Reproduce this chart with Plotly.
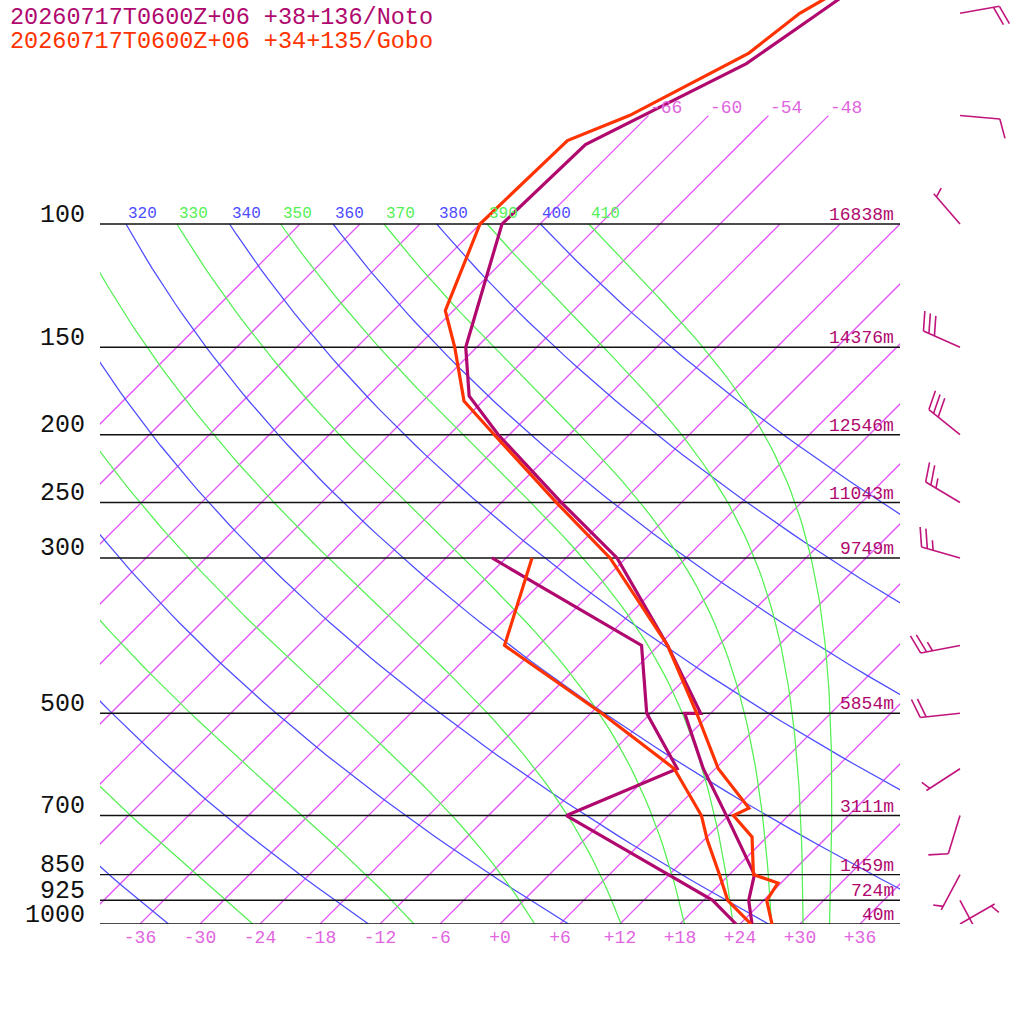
import numpy as np
import plotly.graph_objects as go

# ---------------- data ----------------
NOTO_T_P = [1000, 925, 850, 700, 600, 500, 500, 400, 300, 250, 200, 176, 150, 100, 77, 59, 50, 40]
NOTO_T = [25.2, 22.5, 20.5, 11.8, 4.8, -2.6, -1.0, -11.1, -24.9, -36.0, -49.1, -55.9, -61.1, -69.8, -69.4, -61.4, -59.2, -56.3]
NOTO_TD_P = [1000, 925, 850, 700, 600, 500, 400, 300]
NOTO_TD = [23.6, 18.9, 11.9, -4.2, 2.2, -6.4, -13.7, -37.4]

GOBO_T_P = [1000, 925, 874, 850, 751, 700, 683, 600, 500, 400, 300, 250, 200, 179, 150, 133, 100, 76, 70, 57, 50, 40]
GOBO_T = [27.2, 24.3, 23.7, 20.4, 16.5, 12.5, 13.3, 6.3, -1.4, -11.1, -25.6, -36.5, -49.5, -55.9, -62.2, -66.8, -72.0, -71.6, -67.9, -62.2, -61.1, -56.1]
GOBO_TD_P = [1000, 925, 850, 758, 700, 600, 500, 400, 300]
GOBO_TD = [25.1, 20.4, 17.0, 12.3, 9.3, 1.9, -10.9, -27.4, -33.4]

WIND_P = [1000, 925, 850, 700, 600, 500, 400, 300, 250, 200, 150, 100, 70, 50]
WIND_DIR = [60, 152, 208, 197, 237, 264, 259, 286, 301, 309, 294, 319, 95, 80]
WIND_KT = [5, 5, 5, 10, 5, 20, 25, 25, 25, 30, 30, 5, 10, 20]

LEVELS = [1000, 925, 850, 700, 500, 300, 250, 200, 150, 100]
LEVEL_LABELS = ["1000", "925", "850", "700", "500", "300", "250", "200", "150", "100"]
HEIGHTS = ["40m", "724m", "1459m", "3111m", "5854m", "9749m", "11043m", "12546m", "14376m", "16838m"]

ISOTHERMS = [-90, -84, -78, -72, -66, -60, -54, -48, -42, -36, -30, -24, -18, -12, -6,
             0, 6, 12, 18, 24, 30, 36, 42]
TALL_ISOTHERMS = [-66, -60, -54, -48]
THETA = [240, 260, 280, 300, 320, 340, 360, 380, 400]
THETA_E = [230, 250, 270, 290, 310, 330, 350, 370, 390, 410]
THETA_LABELLED = [320, 340, 360, 380, 400]
THETA_E_LABELLED = [330, 350, 370, 390, 410]
X_TICKS = [-36, -30, -24, -18, -12, -6, 0, 6, 12, 18, 24, 30, 36]
X_TICKTEXT = ["-36", "-30", "-24", "-18", "-12", "-6", "+0", "+6", "+12", "+18", "+24", "+30", "+36"]

TITLE_1 = "20260717T0600Z+06 +38+136/Noto"
TITLE_2 = "20260717T0600Z+06 +34+135/Gobo"

# ---------------- style ----------------
C_NOTO = "rgb(176,8,110)"
C_GOBO = "rgb(255,51,0)"
C_ISO = "rgb(226,84,246)"
C_ISO_TXT = "rgb(224,102,224)"
C_DRY = "rgb(76,76,255)"
C_MOIST = "rgb(84,240,84)"
C_BARB = "rgb(192,20,124)"
MONO = "Liberation Mono"
SKEW = 70.0          # deg per decade of pressure
PX_PER_DECADE = 700.0
P_TOP = 10 ** (3 - 924 / PX_PER_DECADE)


def skew(T, p):
    return np.asarray(T, float) + SKEW * np.log10(1000.0 / np.asarray(p, float))


# pseudo-adiabat integration
Rd, Cp, Lv, EPS = 287.04, 1005.7, 2.501e6, 0.622


def esat(Tk):
    Tc = Tk - 273.15
    return 6.112 * np.exp(17.67 * Tc / (Tc + 243.5))


def dT_dlnp(T, p):
    e = esat(T)
    rs = EPS * e / (p - e)
    return (Rd * T + Lv * rs) / (Cp + Lv * Lv * rs * EPS / (Rd * T * T))


def moist_adiabat(theta_e, p_out):
    p0 = 20.0
    T = theta_e * (p0 / 1000.0) ** 0.2857
    targets = np.log(np.asarray(p_out, float))
    n = 2000
    grid = np.linspace(np.log(p0), np.log(1000.0), n + 1)
    Ts = [T]
    for i in range(n):
        h = grid[i + 1] - grid[i]
        pa = np.exp(grid[i])
        pm = np.exp(grid[i] + h / 2)
        pb = np.exp(grid[i + 1])
        k1 = dT_dlnp(T, pa)
        k2 = dT_dlnp(T + h / 2 * k1, pm)
        k3 = dT_dlnp(T + h / 2 * k2, pm)
        k4 = dT_dlnp(T + h * k3, pb)
        T = T + h / 6 * (k1 + 2 * k2 + 2 * k3 + k4)
        Ts.append(T)
    Ts = np.array(Ts)
    return np.interp(targets, grid, Ts) - 273.15


fig = go.Figure()
P_LINE = np.logspace(3, 2, 80)
THIN = 1.25

# isotherms
for t_iso in ISOTHERMS:
    ptop = 70.0 if t_iso in TALL_ISOTHERMS else 100.0
    pp = [1000.0, ptop]
    xs = [float(skew(t_iso, q)) for q in pp]
    fig.add_trace(go.Scatter(x=xs, y=pp, mode="lines",
                             line=dict(color=C_ISO, width=THIN), hoverinfo="skip", showlegend=False))
# dry adiabats
for th in THETA:
    Tc = th * (P_LINE / 1000.0) ** 0.2857 - 273.15
    fig.add_trace(go.Scatter(x=skew(Tc, P_LINE), y=P_LINE, mode="lines",
                             line=dict(color=C_DRY, width=THIN), hoverinfo="skip", showlegend=False))
# moist adiabats
for th_e in THETA_E:
    Tc = moist_adiabat(th_e, P_LINE)
    fig.add_trace(go.Scatter(x=skew(Tc, P_LINE), y=P_LINE, mode="lines",
                             line=dict(color=C_MOIST, width=THIN), hoverinfo="skip", showlegend=False))
# pressure level lines
for p in LEVELS:
    fig.add_trace(go.Scatter(x=[-40, 40], y=[p, p], mode="lines",
                             line=dict(color="#111111", width=1.4), hoverinfo="skip", showlegend=False))

# profiles
for P, T, c in [(NOTO_T_P, NOTO_T, C_NOTO), (NOTO_TD_P, NOTO_TD, C_NOTO),
                (GOBO_T_P, GOBO_T, C_GOBO), (GOBO_TD_P, GOBO_TD, C_GOBO)]:
    fig.add_trace(go.Scatter(x=skew(T, P), y=P, mode="lines",
                             line=dict(color=c, width=3.2), showlegend=False))

# wind barbs (x2: pixel units, y2: same log pressure scale)
BASE_X = 60.0
STAFF, FULL, HALF, GAP, LEAN = 40.0, 20.0, 10.0, 6.0, np.radians(20)
bx_all, by_all = [], []


def add_seg(p, pts):
    for dx, dy in pts:
        bx_all.append(BASE_X + dx)
        by_all.append(p * 10 ** (dy / PX_PER_DECADE))
    bx_all.append(None)
    by_all.append(None)


for p, d, s in zip(WIND_P, WIND_DIR, WIND_KT):
    th = np.radians(d)
    ux, uy = np.sin(th), -np.cos(th)
    rx, ry = -uy, ux
    bxv = np.cos(LEAN) * rx + np.sin(LEAN) * ux
    byv = np.cos(LEAN) * ry + np.sin(LEAN) * uy
    add_seg(p, [(0, 0), (STAFF * ux, STAFF * uy)])
    nfull = s // 10
    half = (s % 10) >= 5
    pos = STAFF if nfull > 0 else STAFF - 4
    for k in range(nfull):
        sx, sy = pos * ux, pos * uy
        add_seg(p, [(sx, sy), (sx + FULL * bxv, sy + FULL * byv)])
        pos -= GAP
    if half:
        sx, sy = pos * ux, pos * uy
        add_seg(p, [(sx, sy), (sx + HALF * bxv, sy + HALF * byv)])

fig.add_trace(go.Scatter(x=bx_all, y=by_all, xaxis="x2", yaxis="y2", mode="lines",
                         line=dict(color=C_BARB, width=1.6), hoverinfo="skip", showlegend=False))

# ---------------- annotations ----------------
ann = []
for p, lab in zip(LEVELS, LEVEL_LABELS):
    ann.append(dict(x=-40, y=np.log10(p), xref="x", yref="y", text=lab, showarrow=False,
                    xanchor="right", yanchor="middle", xshift=-13, yshift=9,
                    font=dict(family=MONO, size=25, color="#111111")))
for p, lab in zip(LEVELS, HEIGHTS):
    ann.append(dict(x=40, y=np.log10(p), xref="x", yref="y", text=lab, showarrow=False,
                    xanchor="right", yanchor="bottom", xshift=-4, yshift=-3,
                    font=dict(family=MONO, size=18, color=C_NOTO)))
for t_iso in TALL_ISOTHERMS:
    ann.append(dict(x=float(skew(t_iso, 70.0)), y=np.log10(70.0), xref="x", yref="y", text="%d" % t_iso,
                    showarrow=False, xanchor="left", yanchor="bottom", yshift=-4,
                    font=dict(family=MONO, size=18, color=C_ISO_TXT)))
for th in THETA_LABELLED:
    Tc = th * 0.1 ** 0.2857 - 273.15
    ann.append(dict(x=float(skew(Tc, 100.0)), y=2.0, xref="x", yref="y", text=str(th),
                    showarrow=False, xanchor="left", yanchor="bottom", yshift=-1,
                    font=dict(family=MONO, size=16, color=C_DRY)))
for th in THETA_E_LABELLED:
    Tc = moist_adiabat(th, [100.0])[0]
    ann.append(dict(x=float(skew(Tc, 100.0)), y=2.0, xref="x", yref="y", text=str(th),
                    showarrow=False, xanchor="left", yanchor="bottom", yshift=-1,
                    font=dict(family=MONO, size=16, color=C_MOIST)))
ann.append(dict(x=-92 / 924, y=1 - 17 / 924, xref="paper", yref="paper", text=TITLE_1,
                showarrow=False, xanchor="left", yanchor="middle",
                font=dict(family=MONO, size=23.5, color=C_NOTO)))
ann.append(dict(x=-92 / 924, y=1 - 41 / 924, xref="paper", yref="paper", text=TITLE_2,
                showarrow=False, xanchor="left", yanchor="middle",
                font=dict(family=MONO, size=23.5, color=C_GOBO)))

yr = [3.0, float(np.log10(P_TOP))]
fig.update_layout(
    width=1024, height=1024,
    margin=dict(l=100, r=0, t=0, b=100),
    paper_bgcolor="white", plot_bgcolor="white",
    showlegend=False,
    annotations=ann,
    xaxis=dict(domain=[0, 800 / 924], range=[-40, 40], showgrid=False, zeroline=False,
               showline=False, tickvals=X_TICKS, ticktext=X_TICKTEXT, ticks="",
               tickfont=dict(family=MONO, size=18, color=C_ISO_TXT), anchor="y"),
    yaxis=dict(type="log", range=yr, showgrid=False, zeroline=False, showline=False,
               showticklabels=False, ticks="", anchor="x", domain=[0, 1]),
    xaxis2=dict(domain=[800 / 924, 1], range=[0, 124], visible=False, anchor="y2"),
    yaxis2=dict(type="log", range=yr, visible=False, anchor="x2", domain=[0, 1]),
)

POST = "document.body.style.margin='0';document.body.style.overflow='hidden';"
fig.write_html("out.html", config={"displayModeBar": False}, post_script=POST)
